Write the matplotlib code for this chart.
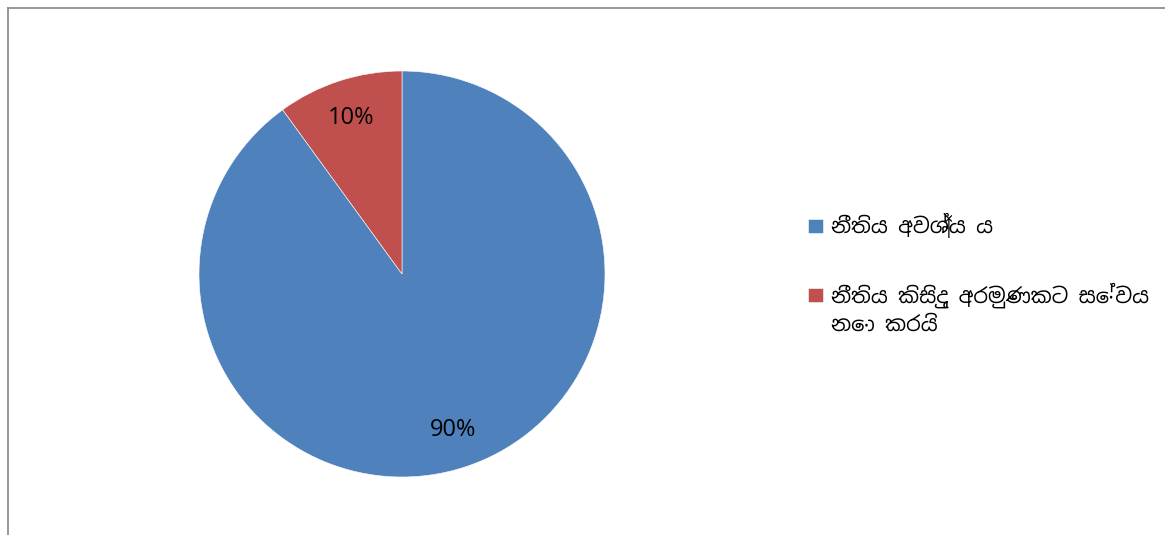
import os
import matplotlib.pyplot as plt
from matplotlib import font_manager
from matplotlib.lines import Line2D

sinhala_path = "/usr/share/fonts/truetype/google-fonts/NotoSansSinhala[wdth,wght].ttf"
if os.path.exists(sinhala_path):
    font_manager.fontManager.addfont(sinhala_path)
    sinhala_name = font_manager.FontProperties(fname=sinhala_path).get_name()
else:
    sinhala_name = "Noto Sans Sinhala"

plt.rcParams['font.family'] = ['Open Sans', 'Noto Sans', 'DejaVu Sans']

labels = ["නීතිය අවශ්‍ය ය", "නීතිය කිසිදු අරමුණකට සේවය"]
label2_cont = "නො කරයි"  # wrapped second line of the second label
values = [90, 10]
colors = ["#4F81BD", "#C0504D"]

W, H = 1165, 535
fig = plt.figure(figsize=(W / 100, H / 100), dpi=100)

# pie box: centre (402, 274) px, radius 203 px
cx, cy, r = 402, 274, 203
ax = fig.add_axes([(cx - r) / W, (H - cy - r) / H, 2 * r / W, 2 * r / H])
wedges, texts, autotexts = ax.pie(values, colors=colors, startangle=90, counterclock=False,
                                  autopct="%d%%", pctdistance=0.81,
                                  wedgeprops=dict(edgecolor="white", linewidth=0.4),
                                  textprops=dict(fontsize=17, color="black"))
ax.set_xlim(-1, 1)
ax.set_ylim(-1, 1)
ax.set_aspect("equal")
ax.axis("off")

sin_font = dict(family=[sinhala_name, 'DejaVu Sans'], size=15)
leg = fig.legend(wedges, labels, loc="upper left", bbox_to_anchor=(800 / W, 1 - 205 / H),
                 frameon=False, handlelength=0.7, handleheight=0.7,
                 handletextpad=0.4, labelspacing=2.1, borderaxespad=0, prop=sin_font)

fig.canvas.draw()
t2 = leg.get_texts()[1]
ax.annotate(label2_cont, xy=(0, 0), xycoords=t2, xytext=(0, -5), textcoords="offset points",
            ha="left", va="top", fontfamily=sin_font["family"], fontsize=15, annotation_clip=False)

# outer frame (top and left edges visible)
fig.add_artist(Line2D([7.5 / W, 1], [1 - 7.5 / H, 1 - 7.5 / H], color="#868686", lw=1.2))
fig.add_artist(Line2D([7.5 / W, 7.5 / W], [0, 1 - 7.5 / H], color="#868686", lw=1.2))

fig.savefig("out.png", dpi=100)
